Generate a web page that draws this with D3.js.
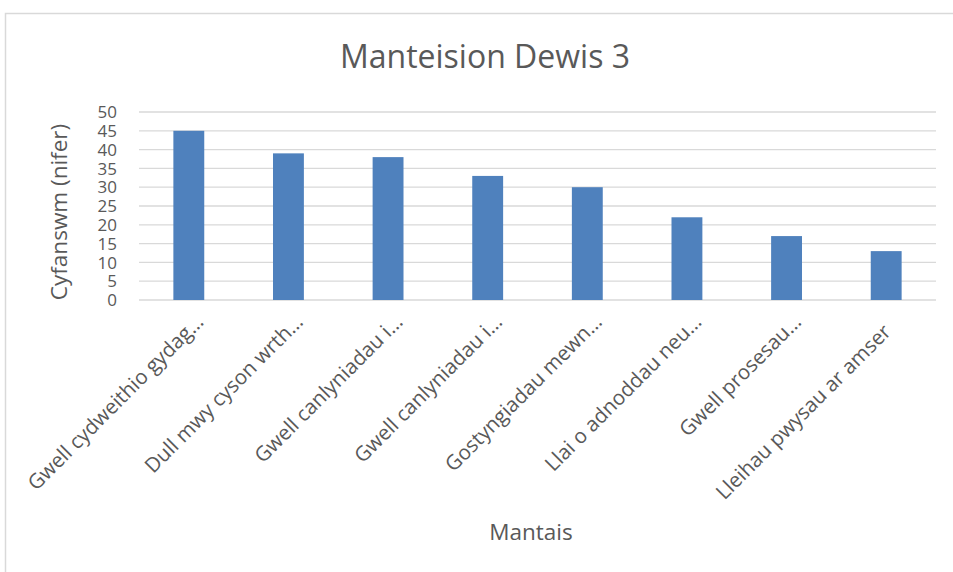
<!DOCTYPE html>
<html>
<head>
<meta charset="utf-8">
<script src="https://cdn.jsdelivr.net/npm/d3@7"></script>
<style>
  body { margin: 0; background: #fff; }
  text { font-family: "Open Sans", sans-serif; fill: #595959; }
</style>
</head>
<body>
<script>
// chart data
var categories = [
    "Gwell cydweithio gydag…",
    "Dull mwy cyson wrth…",
    "Gwell canlyniadau i…",
    "Gwell canlyniadau i…",
    "Gostyngiadau mewn…",
    "Llai o adnoddau neu…",
    "Gwell prosesau…",
    "Lleihau pwysau ar amser"
];
var values = [45, 39, 38, 33, 30, 22, 17, 13];
var yTicks = [0, 5, 10, 15, 20, 25, 30, 35, 40, 45, 50];

var width = 953, height = 572;
var plotLeft = 139, plotRight = 936, plotTop = 112, plotBottom = 300;

var svg = d3.select("body").append("svg").attr("width", width).attr("height", height);

// chart border
svg.append("rect")
    .attr("x", 5.5).attr("y", 13.5)
    .attr("width", 960).attr("height", 600)
    .attr("fill", "none").attr("stroke", "#d9d9d9").attr("stroke-width", 1.5);

var x = d3.scaleBand()
    .domain(d3.range(categories.length))
    .range([plotLeft, plotRight])
    .paddingInner(0.69)
    .paddingOuter(0.345);

var y = d3.scaleLinear().domain([0, 50]).range([plotBottom, plotTop]);

// gridlines
svg.selectAll("line.grid")
    .data(yTicks)
    .enter()
    .append("line")
    .attr("class", "grid")
    .attr("x1", plotLeft).attr("x2", plotRight)
    .attr("y1", function(d){ return y(d); })
    .attr("y2", function(d){ return y(d); })
    .attr("stroke", "#d9d9d9")
    .attr("stroke-width", 1.3);

// y tick labels
svg.selectAll("text.ytick")
    .data(yTicks)
    .enter()
    .append("text")
    .attr("class", "ytick")
    .attr("x", 117)
    .attr("y", function(d){ return y(d); })
    .attr("dy", "0.36em")
    .attr("text-anchor", "end")
    .attr("font-size", 17)
    .text(function(d){ return d; });

// bars
svg.selectAll("rect.bar")
    .data(values)
    .enter()
    .append("rect")
    .attr("class", "bar")
    .attr("x", function(d, i){ return x(i); })
    .attr("width", x.bandwidth())
    .attr("y", function(d){ return y(d); })
    .attr("height", function(d){ return y(0) - y(d); })
    .attr("fill", "#4f81bd");

// category labels, rotated
svg.selectAll("text.xlab")
    .data(categories)
    .enter()
    .append("text")
    .attr("class", "xlab")
    .attr("transform", function(d, i){
        var cx = x(i) + x.bandwidth() / 2 + 6;
        return "translate(" + cx + ",333) rotate(-45)";
    })
    .attr("dx", function(d){ return d.slice(-1) == "…" ? 14 : 0; })
    .attr("text-anchor", "end")
    .attr("font-size", 20.5)
    .text(function(d){ return d; });

// titles
svg.append("text")
    .attr("x", 485).attr("y", 68)
    .attr("text-anchor", "middle")
    .attr("font-size", 32)
    .text("Manteision Dewis 3");

svg.append("text")
    .attr("transform", "translate(67,212) rotate(-90)")
    .attr("text-anchor", "middle")
    .attr("font-size", 22.5)
    .text("Cyfanswm (nifer)");

svg.append("text")
    .attr("x", 531).attr("y", 540)
    .attr("text-anchor", "middle")
    .attr("font-size", 22.5)
    .text("Mantais");
</script>
</body>
</html>
